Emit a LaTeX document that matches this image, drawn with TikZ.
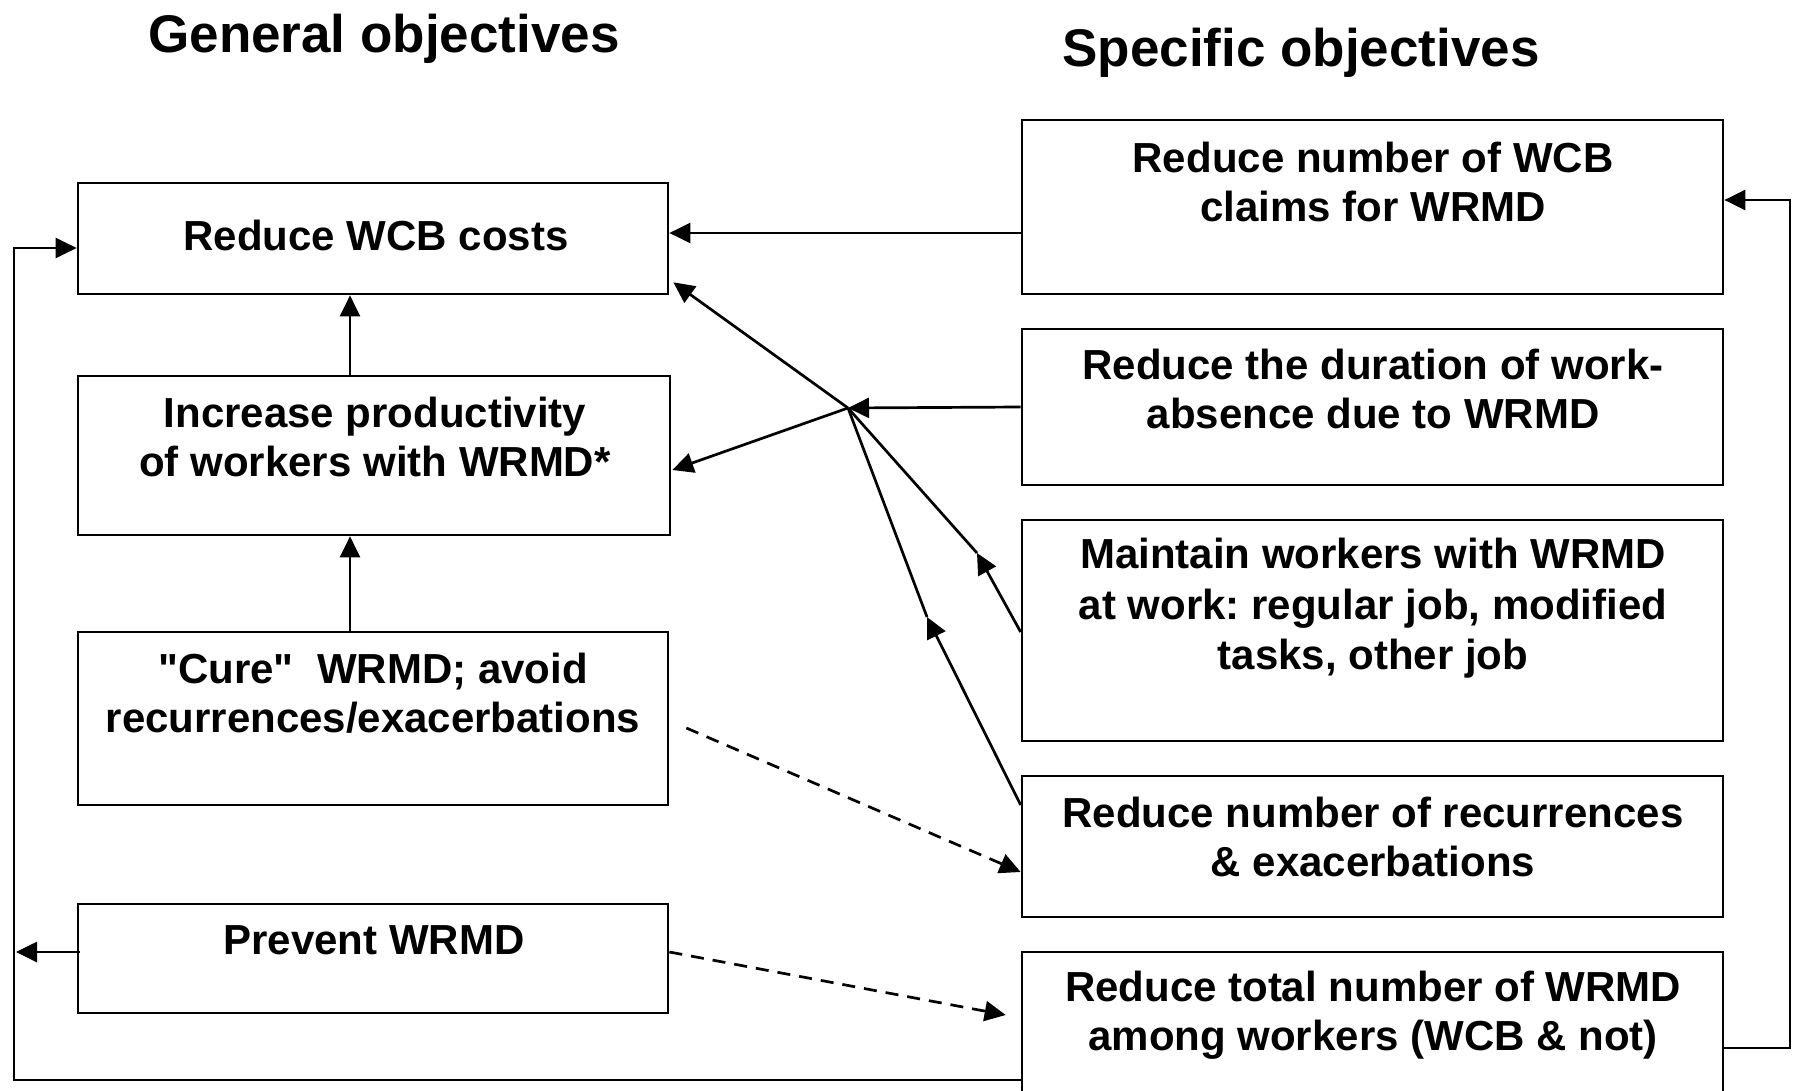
\documentclass[tikz,border=0pt]{standalone}
\usepackage{fontspec}
\setmainfont{Liberation Sans}[Ligatures=TeXOff]
\usetikzlibrary{arrows.meta}
\frenchspacing
\begin{document}
\begin{tikzpicture}[x=1pt,y=-1pt,
  line width=2.7pt,
  box/.style={draw, rectangle, inner sep=0pt},
  lbox/.style={box, minimum width=590pt},
  rbox/.style={box, minimum width=701pt},
  txt/.style={align=center, inner sep=0pt, font=\fontsize{42}{49}\selectfont\bfseries},
  ttl/.style={inner sep=0pt, font=\fontsize{53}{60}\selectfont\bfseries},
  arr/.style={-{Triangle[length=21pt,width=20pt]}},
  dsh/.style={arr, dash pattern=on 13pt off 9pt},
]
\useasboundingbox (0,0) rectangle (1798,1091);
\clip (0,0) rectangle (1798,1091);

% headings
\node[ttl] (hg) at (384,39) {General objectives};
\node[ttl] (hs) at (1301,53) {Specific objectives};

% general objectives (left column)
\node[lbox, minimum height=111pt] (cost) at (373,238.5) {};
\node[lbox, minimum width=592pt, minimum height=159pt] (prod) at (374,455.5) {};
\node[lbox, minimum height=173pt] (cure) at (373,718.5) {};
\node[lbox, minimum height=109pt] (prev) at (373,958.5) {};

\node[txt] (tcost) at (376,235) {Reduce WCB costs};
\node[txt] (tprod) at (375,436.5) {Increase productivity\\of workers with WRMD*};
\node[txt] (tcure) at (373,693) {"Cure"\ \ WRMD; avoid\\recurrences/exacerbations};
\node[txt] (tprev) at (374,940) {Prevent WRMD};

% specific objectives (right column)
\node[rbox, minimum height=174pt] (claims) at (1372.5,207) {};
\node[rbox, minimum height=156pt] (dur) at (1372.5,407) {};
\node[rbox, minimum height=221pt] (maint) at (1372.5,630.5) {};
\node[rbox, minimum height=141pt] (recur) at (1372.5,846.5) {};
\node[rbox, minimum height=158pt] (total) at (1372.5,1031) {};

\node[txt] (tclaims) at (1373,181.5) {Reduce number of WCB\\claims for WRMD};
\node[txt] (tdur) at (1373,388.5) {Reduce the duration of work-\\absence due to WRMD};
\node[txt, font=\fontsize{42}{50.5}\selectfont\bfseries] (tmaint) at (1373,608.5) {Maintain workers with WRMD\\at work: regular job, modified\\tasks, other job};
\node[txt] (trecur) at (1373,836.5) {Reduce number of recurrences\\\& exacerbations};
\node[txt] (ttotal) at (1373,1015.5) {Reduce total number of WRMD\\among workers (WCB \& not)};

% junction and bend points
\coordinate (j) at (848,408);
\coordinate (m1) at (977,553);
\coordinate (m2) at (927,617);
\coordinate (rl) at (14,0);
\coordinate (rr) at (1790,0);

% vertical links in the left column
\coordinate (v1) at ([xshift=-24pt]prod.north);
\draw[arr] (v1) -- (cost.south -| v1);
\coordinate (v2) at ([xshift=-23pt]cure.north);
\draw[arr] (v2) -- (prod.south -| v2);

% claims to costs
\coordinate (c1) at ([yshift=-26pt]claims.west);
\draw[arr] (c1) -- (cost.east |- c1);

% links through the junction
\draw[arr] (dur.west) -- (j);
\draw[arr] (j) -- ([xshift=4pt,yshift=13pt]cost.south east);
\draw[arr] (j) -- ([xshift=1pt,yshift=-14.5pt]prod.east);
\draw[arr] ([yshift=-1.5pt]maint.west) -- (m1);
\draw (m1) -- (j);
\draw[arr] ([yshift=41.5pt]recur.west) -- (m2);
\draw (m2) -- (j);

% dashed links
\draw[dsh] ([xshift=17pt,yshift=-9.5pt]cure.east) -- ([yshift=-25.5pt]recur.west);
\draw[dsh] ([yshift=6.5pt]prev.east) -- ([xshift=-15pt,yshift=16pt]total.west);

% prevention to the left rail
\coordinate (p1) at ([xshift=3pt,yshift=6.5pt]prev.west);
\draw[arr] (p1) -- ([xshift=2pt]p1 -| rl);

% feedback loops
\coordinate (c2) at ([yshift=-9.5pt]cost.west);
\coordinate (b1) at ([yshift=-49pt]total.west);
\draw[arr] (b1) -- (b1 -| rl) -- (c2 -| rl) -- (c2);
\coordinate (b2) at ([yshift=-17pt]total.east);
\coordinate (c3) at ([yshift=7pt]claims.east);
\draw[arr] (b2) -- (b2 -| rr) -- (c3 -| rr) -- (c3);
\end{tikzpicture}
\end{document}
